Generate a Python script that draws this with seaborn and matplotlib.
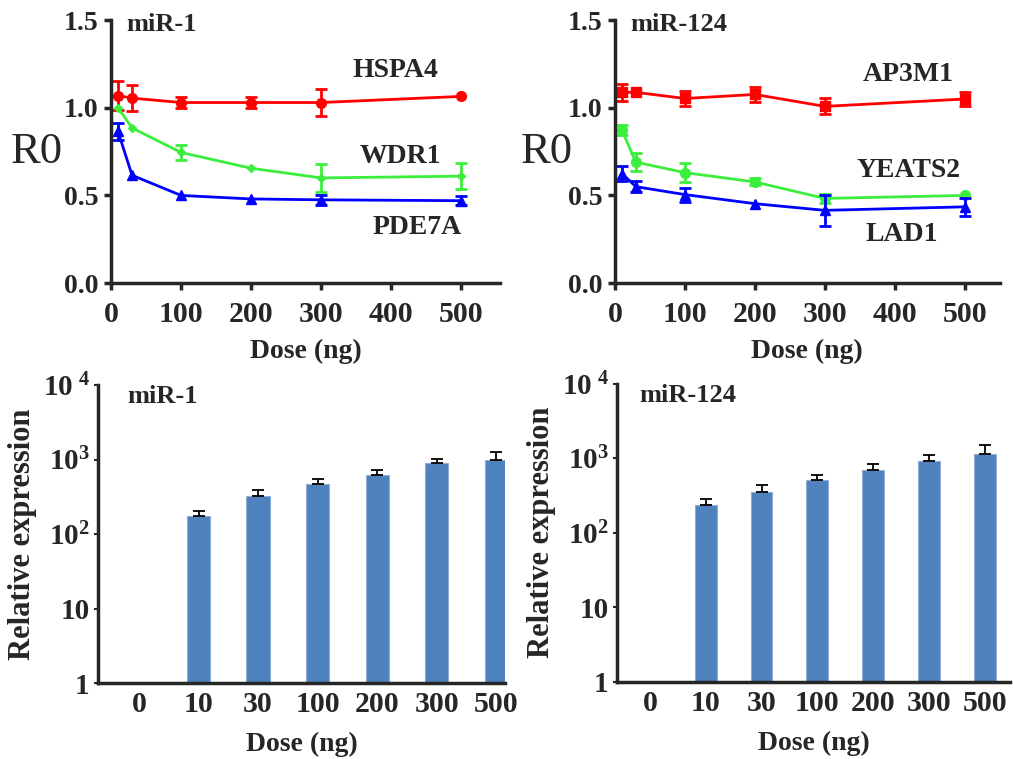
import numpy as np
import pandas as pd
import matplotlib
matplotlib.use("Agg")
import matplotlib.pyplot as plt
import seaborn as sns

# ---- data ----
dose = [10, 30, 100, 200, 300, 500]

# miR-1 reporters (R0)
hspa4 = [1.07, 1.055, 1.03, 1.03, 1.03, 1.065]
hspa4_err = [0.085, 0.075, 0.03, 0.03, 0.075, np.nan]
wdr1 = [1.0, 0.885, 0.745, 0.655, 0.60, 0.61]
wdr1_err = [np.nan, np.nan, 0.04, np.nan, 0.08, 0.075]
pde7a = [0.865, 0.615, 0.50, 0.48, 0.475, 0.47]
pde7a_err = [0.05, np.nan, np.nan, np.nan, 0.03, 0.025]

# miR-124 reporters (R0)
ap3m1 = [1.088, 1.088, 1.053, 1.076, 1.008, 1.05]
ap3m1_err = [0.05, np.nan, 0.045, 0.045, 0.045, 0.04]
yeats2 = [0.872, 0.69, 0.63, 0.577, 0.483, 0.50]
yeats2_err = [0.03, 0.05, 0.055, 0.02, 0.025, np.nan]
lad1 = [0.625, 0.55, 0.505, 0.453, 0.415, 0.435]
lad1_err = [0.045, 0.03, 0.04, np.nan, 0.09, 0.05]

# relative expression (bar charts, log scale)
dose_labels = ["0", "10", "30", "100", "200", "300", "500"]
mir1_expr = [176, 324, 465, 614, 885, 995]
mir1_expr_err = [30, 65, 90, 100, 147, 256]
mir124_expr = [235, 351, 503, 700, 910, 1138]
mir124_expr_err = [48, 88, 100, 135, 205, 350]

RED, GREEN, BLUE = "#FF0000", "#3CEE3C", "#0000FF"
BAR = "#4F81BD"

sns.set_theme(style="ticks")
plt.rcParams["font.family"] = ["Liberation Serif", "DejaVu Serif"]
plt.rcParams["font.weight"] = "bold"
plt.rcParams["axes.labelweight"] = "bold"
plt.rcParams["mathtext.fontset"] = "custom"
plt.rcParams["mathtext.rm"] = "Liberation Serif:bold"
plt.rcParams["mathtext.it"] = "Liberation Serif:bold"
plt.rcParams["mathtext.bf"] = "Liberation Serif:bold"
plt.rcParams["mathtext.default"] = "rm"

fig = plt.figure(figsize=(10.13, 7.59), dpi=100)

ax1 = fig.add_axes([0.1096, 0.627, 0.384, 0.3465])
ax2 = fig.add_axes([0.607, 0.627, 0.380, 0.3465])
ax3 = fig.add_axes([0.0967, 0.1001, 0.402, 0.3926])
ax4 = fig.add_axes([0.609, 0.1018, 0.388, 0.3926])


def line_panel(ax, series, title, xmax):
    for name, vals, errs, color, marker, ms, (tx, ty) in series:
        df = pd.DataFrame({"dose": dose, "r0": vals})
        sns.lineplot(data=df, x="dose", y="r0", ax=ax, color=color, lw=2,
                     marker=marker, markersize=ms, markeredgecolor=color,
                     markeredgewidth=1)
        ax.errorbar(dose, vals, yerr=errs, fmt="none", ecolor=color,
                    elinewidth=2, capsize=4, capthick=2)
        ax.text(tx, ty, name, ha="center", va="center", fontsize=20,
                fontweight="bold")
    ax.set_xlim(0, xmax)
    ax.set_ylim(0, 1.5)
    ax.set_xticks([0, 100, 200, 300, 400, 500])
    ax.set_yticks([0.0, 0.5, 1.0, 1.5])
    ax.set_yticklabels(["0.0", "0.5", "1.0", "1.5"])
    ax.set_xlabel("Dose (ng)", fontsize=20, labelpad=8)
    ax.set_ylabel("")
    ax.text(0.04, 0.985, title, transform=ax.transAxes, ha="left",
            va="center", fontsize=19, fontweight="bold")
    sns.despine(ax=ax)
    for s in ["left", "bottom"]:
        ax.spines[s].set_linewidth(2.5)
    ax.tick_params(axis="y", labelsize=20, width=2.5, length=5, pad=4)
    ax.tick_params(axis="x", labelsize=21.5, width=2.5, length=5, pad=8)


line_panel(ax1, [
    ("HSPA4", hspa4, hspa4_err, RED, "o", 7, (406, 1.215)),
    ("WDR1", wdr1, wdr1_err, GREEN, "D", 4, (413, 0.72)),
    ("PDE7A", pde7a, pde7a_err, BLUE, "^", 7, (437, 0.315)),
], "miR-1", 555)

line_panel(ax2, [
    ("AP3M1", ap3m1, ap3m1_err, RED, "s", 7, (419, 1.19)),
    ("YEATS2", yeats2, yeats2_err, GREEN, "o", 7, (419, 0.64)),
    ("LAD1", lad1, lad1_err, BLUE, "^", 7, (410, 0.275)),
], "miR-124", 550)

fig.text(0.0365, 0.80, "R0", fontsize=32, fontweight="normal",
         ha="center", va="center")
fig.text(0.540, 0.80, "R0", fontsize=32, fontweight="normal",
         ha="center", va="center")


def bar_panel(ax, vals, errs, title, xlim, tx):
    df = pd.DataFrame({"dose": dose_labels[1:], "expr": vals})
    sns.barplot(data=df, x="dose", y="expr", order=dose_labels, ax=ax,
                color=BAR, width=0.39, errorbar=None, saturation=1,
                edgecolor="#8EAEDA", linewidth=0.8)
    ax.errorbar(range(1, len(dose_labels)), vals,
                yerr=[np.zeros(len(errs)), errs], fmt="none",
                ecolor="black", elinewidth=1.3, capsize=4, capthick=1.3)
    ax.set_yscale("log")
    ax.set_ylim(1, 1e4)
    ax.set_xlim(*xlim)
    ax.set_yticks([1, 10, 100, 1000, 10000])
    ax.set_yticklabels(["1", "10", "$10^2$", "$10^3$", "$10^{\\ 4}$"])
    ax.minorticks_off()
    ax.set_xlabel("Dose (ng)", fontsize=20, labelpad=10)
    ax.set_ylabel("Relative expression", fontsize=22, labelpad=4)
    ax.text(tx, 0.962, title, transform=ax.transAxes, ha="left",
            va="center", fontsize=19, fontweight="bold")
    sns.despine(ax=ax)
    for s in ["left", "bottom"]:
        ax.spines[s].set_linewidth(2.5)
    ax.tick_params(axis="y", labelsize=21, width=1.5, length=3, pad=3)
    ax.tick_params(axis="x", labelsize=21.5, length=0, pad=6)


bar_panel(ax3, mir1_expr, mir1_expr_err, "miR-1", (-0.69, 6.15), 0.071)
bar_panel(ax4, mir124_expr, mir124_expr_err, "miR-124", (-0.59, 6.45), 0.058)

fig.savefig("out.png", dpi=100)
